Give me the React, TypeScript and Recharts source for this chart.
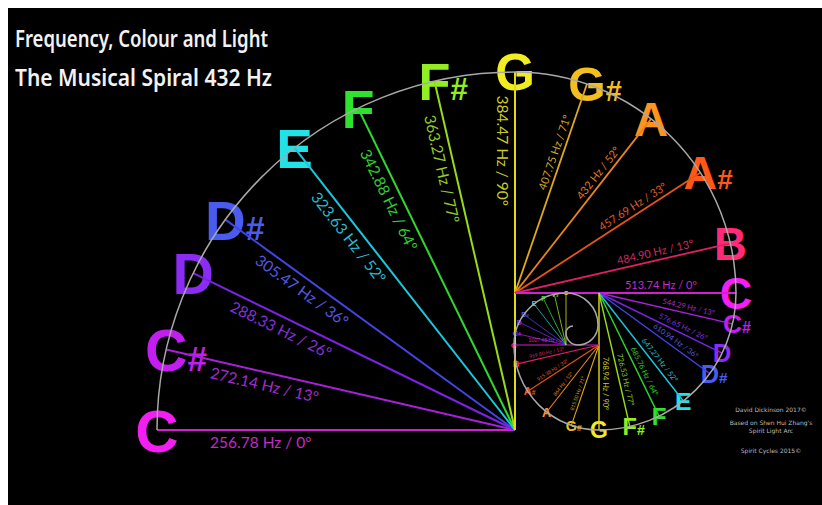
import React from 'react';
import { ScatterChart, Scatter, XAxis, YAxis, Customized } from 'recharts';

const W = 814;
const H = 497;
const X0 = 8;
const Y0 = 8;
const K = 1; // pixels per data unit (domain width == chart width)

// note names and the angle printed on each spoke
const LOW_NOTES = ['C', 'C#', 'D', 'D#', 'E', 'F', 'F#', 'G'];
const LOW_DEGREES = [0, 13, 26, 36, 52, 64, 77, 90];
const HIGH_NOTES = ['G#', 'A', 'A#', 'B', 'C'];
const HIGH_DEGREES = [71, 52, 33, 13, 0];

// frequencies per quarter turn of the spiral
const FREQ_Q1 = [256.78, 272.14, 288.33, 305.47, 323.63, 342.88, 363.27, 384.47];
const FREQ_Q2 = [407.75, 432, 457.69, 484.9, 513.74];
const FREQ_Q3 = [544.29, 576.65, 610.94, 647.27, 685.76, 726.53, 768.94];
const FREQ_Q4 = [815.5, 864, 915.38, 969.8, 1027.48];
const FREQ_Q5 = [1088.58, 1153.32, 1221.88, 1294.54, 1371.52, 1453.06, 1537.88];

// spiral quarter arcs: centre, radius, start angle
const ARC_X = [515, 515, 599, 599, 566, 566, 578, 578, 573];
const ARC_Y = [430, 293, 293, 345, 345, 325, 325, 333, 333];
const ARC_R = [358, 221, 137, 85, 52, 32, 20, 12, 7];
const ARC_START = [180, 90, 0, -90, -180, -270, -360, -450, -540];

const TITLE = ['Frequency, Colour and Light', 'The Musical Spiral 432 Hz'];
const CREDITS = ['David Dickinson 2017©', "Based on Shen Hui Zhang's", 'Spirit Light Arc', 'Spirit Cycles 2015©'];

const NOTE_COLOR: Record<string, string> = {
  C: '#f21ef2', 'C#': '#c21ef2', D: '#8a2cf2', 'D#': '#4a5cf0', E: '#22e2e8', F: '#2ee22e',
  'F#': '#92ee22', G: '#f0ee22', 'G#': '#f2be20', A: '#ff9420', 'A#': '#ff5818', B: '#ff2a78',
};
const LINE_COLOR: Record<string, string> = {
  C: '#d020d0', 'C#': '#a820dc', D: '#7c22e6', 'D#': '#4444e6', E: '#18c8dc', F: '#2ed82e',
  'F#': '#98dc18', G: '#e0dc18', 'G#': '#e0aa18', A: '#e88418', 'A#': '#e85418', B: '#e01e66',
};
const LABEL_COLOR: Record<string, string> = {
  C: '#c22cc2', 'C#': '#a02cd0', D: '#8430d8', 'D#': '#5458e0', E: '#26bcd0', F: '#32cc32',
  'F#': '#92cc26', G: '#cccc26', 'G#': '#d0a626', A: '#e07e26', 'A#': '#e05a26', B: '#d02a60',
};
const LETTER_ADV: Record<string, number> = { C: 0.722, D: 0.722, E: 0.667, F: 0.611, G: 0.778, A: 0.722, B: 0.722 };

const LETTER_SIZE_START = [60, 49, 27, 16, 8];
const LETTER_SIZE_END = [51, 45, 23, 8, 6];
const LABEL_SIZE = [15.5, 11, 7.5, 5, 0];
const SPOKE_WIDTH = [2, 1.8, 1.4, 1.1, 0.8];
const LABEL_AT = [0.71, 0.66, 0.66, 0.62, 0.6];
const LABEL_SIDE = [1, -1, -1, -1, -1];

const QUARTERS = [
  { names: LOW_NOTES, degs: LOW_DEGREES, freqs: FREQ_Q1, high: false },
  { names: HIGH_NOTES, degs: HIGH_DEGREES, freqs: FREQ_Q2, high: true },
  { names: LOW_NOTES.slice(1), degs: LOW_DEGREES.slice(1), freqs: FREQ_Q3, high: false },
  { names: HIGH_NOTES, degs: HIGH_DEGREES, freqs: FREQ_Q4, high: true },
  { names: LOW_NOTES.slice(1), degs: LOW_DEGREES.slice(1), freqs: FREQ_Q5, high: false },
];

const toRad = (d: number) => (d * Math.PI) / 180;
const fmtFreq = (f: number) => (Number.isInteger(f) ? String(f) : f.toFixed(2));

const notes = QUARTERS.flatMap((qt, q) =>
  qt.names.map((name, i) => {
    const deg = qt.degs[i];
    const p = qt.high ? 90 - deg : deg;
    const theta = ARC_START[q] - p;
    const ux = Math.cos(toRad(theta));
    const uy = -Math.sin(toRad(theta));
    let dx = ux;
    let dy = uy;
    if (ux < -1e-6) {
      dx = -ux;
      dy = -uy;
    } else if (Math.abs(ux) <= 1e-6) {
      dx = 0;
      dy = 1;
    }
    const r = ARC_R[q];
    // the first turn pushes its near-vertical labels a little further out
    const f = LABEL_AT[q] + (q === 0 ? 0.07 * Math.max(0, (deg - 52) / 38) : 0);
    return {
      q,
      name,
      size: LETTER_SIZE_START[q] + ((LETTER_SIZE_END[q] - LETTER_SIZE_START[q]) * p) / 90,
      label: `${fmtFreq(qt.freqs[i])} Hz / ${deg}º`,
      cx: ARC_X[q],
      cy: ARC_Y[q],
      ex: ARC_X[q] + r * ux,
      ey: ARC_Y[q] + r * uy,
      lx: ARC_X[q] + r * f * ux,
      ly: ARC_Y[q] + r * f * uy,
      rot: (Math.atan2(dy, dx) * 180) / Math.PI,
    };
  })
);

const arcData = ARC_X.map((x, i) => ({ x, y: ARC_Y[i], r: ARC_R[i], start: ARC_START[i] }));
const letterData = notes.map((n) => ({ x: n.ex, y: n.ey, name: n.name, size: n.size }));
const labelData = notes
  .filter((n) => LABEL_SIZE[n.q] > 0)
  .map((n) => ({ x: n.lx, y: n.ly, name: n.name, q: n.q, text: n.label, rot: n.rot }));

const Empty = () => <g />;

function ArcShape(props: any) {
  const { cx, cy, payload } = props;
  const r = payload.r * K;
  const a0 = toRad(payload.start);
  const a1 = toRad(payload.start - 90);
  const sx = cx + r * Math.cos(a0);
  const sy = cy - r * Math.sin(a0);
  const ex = cx + r * Math.cos(a1);
  const ey = cy - r * Math.sin(a1);
  return <path d={`M${sx},${sy} A${r},${r} 0 0 1 ${ex},${ey}`} fill="none" stroke="#a8a8a8" strokeWidth={1.5} />;
}

function LetterShape(props: any) {
  const { cx, cy, payload } = props;
  const fs = payload.size;
  const base = payload.name[0];
  const sharp = payload.name.length > 1;
  return (
    <text
      x={cx - (LETTER_ADV[base] * fs) / 2}
      y={cy + fs * 0.36}
      fontSize={fs}
      fontWeight="bold"
      fontFamily="'Liberation Sans', Arial, sans-serif"
      fill={NOTE_COLOR[payload.name]}
    >
      {base}
      {sharp && <tspan fontSize={fs * 0.6}>#</tspan>}
    </text>
  );
}

function LabelShape(props: any) {
  const { cx, cy, payload } = props;
  const fs = LABEL_SIZE[payload.q];
  const off = LABEL_SIDE[payload.q] * (fs * 0.72 + 1);
  return (
    <text
      transform={`translate(${cx},${cy}) rotate(${payload.rot})`}
      x={0}
      y={off}
      textAnchor="middle"
      dominantBaseline="central"
      fontSize={fs}
      fontFamily="Lato, 'Open Sans', sans-serif"
      fill={LABEL_COLOR[payload.name]}
    >
      {payload.text}
    </text>
  );
}

// captions are placed in chart pixels (chart starts at the 8px body margin)
function Captions() {
  return (
    <g>
      <text x={7} y={39} fontSize={24} fontWeight={600} fontFamily="'Noto Sans', sans-serif" fill="#f2f2f2" textLength={253} lengthAdjust="spacingAndGlyphs">
        {TITLE[0]}
      </text>
      <text x={7} y={78} fontSize={24} fontWeight={600} fontFamily="'Noto Sans', sans-serif" fill="#f2f2f2" textLength={257} lengthAdjust="spacingAndGlyphs">
        {TITLE[1]}
      </text>
      {CREDITS.map((t, i) => (
        <text
          key={t}
          x={763}
          y={[404, 417, 425, 445][i]}
          textAnchor="middle"
          fontSize={6}
          fontFamily="'DejaVu Sans', sans-serif"
          fill="#bdbdbd"
        >
          {t}
        </text>
      ))}
    </g>
  );
}

export default function App() {
  return (
    <div style={{ position: 'fixed', left: X0, top: Y0, width: W, height: H, background: '#000' }}>
      <ScatterChart width={W} height={H} margin={{ top: 0, right: 0, bottom: 0, left: 0 }}>
        <XAxis type="number" dataKey="x" domain={[X0, X0 + W]} hide allowDataOverflow />
        <YAxis type="number" dataKey="y" domain={[Y0, Y0 + H]} reversed hide allowDataOverflow />
        <Scatter data={letterData} shape={LetterShape} isAnimationActive={false} />
        {notes.map((n, i) => (
          <Scatter
            key={`spoke-${i}`}
            data={[{ x: n.cx, y: n.cy }, { x: n.ex, y: n.ey }]}
            fill={LINE_COLOR[n.name]}
            line={{ stroke: LINE_COLOR[n.name], strokeWidth: SPOKE_WIDTH[n.q] }}
            shape={Empty}
            isAnimationActive={false}
          />
        ))}
        <Scatter data={arcData} shape={ArcShape} isAnimationActive={false} />
        <Scatter data={labelData} shape={LabelShape} isAnimationActive={false} />
        <Customized component={Captions} />
      </ScatterChart>
    </div>
  );
}
